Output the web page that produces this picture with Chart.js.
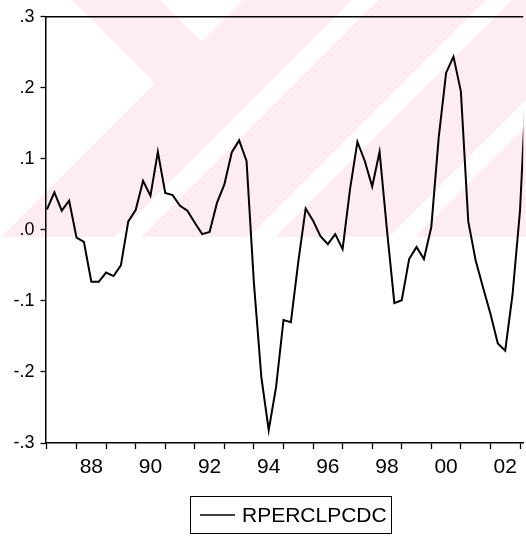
<!DOCTYPE html>
<html>
<head>
<meta charset="utf-8">
<script src="https://cdn.jsdelivr.net/npm/chart.js@4.4.1/dist/chart.umd.min.js"></script>
<style>
html,body{margin:0;padding:0;background:#fff;overflow:hidden}
#wrap{position:relative;width:526px;height:546px}
</style>
</head>
<body>
<div id="wrap"><canvas id="c" width="526" height="546"></canvas></div>
<script>
// ---- data (quarterly, first observation 1987Q1) ----
const seriesName = 'RPERCLPCDC';
const firstYear = 1987;
const values = [
  0.029, 0.053, 0.027, 0.041,   -0.011, -0.017, -0.073, -0.073,
 -0.060, -0.065, -0.050, 0.012,   0.028, 0.069, 0.048, 0.110,
  0.052, 0.049, 0.034, 0.027,     0.010, -0.006, -0.003, 0.038,
  0.064, 0.109, 0.126, 0.097,    -0.075, -0.207, -0.282, -0.221,
 -0.127, -0.130, -0.045, 0.030,   0.013, -0.009, -0.020, -0.006,
 -0.027, 0.057, 0.124, 0.097,     0.061, 0.110, 0.000, -0.103,
 -0.099, -0.041, -0.024, -0.041,  0.004, 0.130, 0.221, 0.244,
  0.195, 0.012, -0.043, -0.081,  -0.118, -0.160, -0.170, -0.090,
  0.027, 0.240
];
const yTickValues = [-0.3, -0.2, -0.1, 0.0, 0.1, 0.2, 0.3];
const yTickLabels = ['-.3', '-.2', '-.1', '.0', '.1', '.2', '.3'];
const tickYears = [1987,1988,1989,1990,1991,1992,1993,1994,1995,1996,1997,1998,1999,2000,2001,2002,2003];
const labelYears = [1988,1990,1992,1994,1996,1998,2000,2002];
const labelTexts = ['88','90','92','94','96','98','00','02'];

const points = values.map((v, i) => ({x: firstYear + i / 4, y: v}));

const FONT = "'Liberation Sans', Arial, Helvetica, sans-serif";

const bgPlugin = {
  id: 'bg',
  beforeDraw(chart) {
    const ctx = chart.ctx;
    ctx.save();
    ctx.fillStyle = '#ffffff';
    ctx.fillRect(0, 0, chart.width, chart.height);
    // faint watermark behind the plot
    const H = 237;
    ctx.fillStyle = 'rgb(253,236,240)';
    ctx.fillRect(0, 0, chart.width, H);
    ctx.beginPath(); ctx.rect(0, 0, chart.width, H); ctx.clip();
    ctx.fillStyle = '#ffffff';
    const poly = (pts) => { ctx.beginPath(); ctx.moveTo(pts[0][0], pts[0][1]); for (let k = 1; k < pts.length; k++) ctx.lineTo(pts[k][0], pts[k][1]); ctx.closePath(); ctx.fill(); };
    poly([[0,0],[72,0],[155,83],[0,238]]);
    poly([[160,0],[243,0],[201.5,41.5]]);
    [[352,378],[486,512],[626,652]].forEach(([a,b]) => poly([[a,0],[b,0],[b-H,H],[a-H,H]]));
    ctx.restore();
  }
};

const framePlugin = {
  id: 'frame',
  afterDraw(chart) {
    const ctx = chart.ctx;
    const a = chart.chartArea;
    ctx.save();
    ctx.strokeStyle = '#000';
    ctx.lineWidth = 1.5;
    ctx.beginPath();
    ctx.moveTo(a.left, a.top);
    ctx.lineTo(a.right, a.top);
    ctx.stroke();
    // legend box
    const ds = chart.data.datasets[0];
    const bx = 190.5, by = 496.5, bw = 201, bh = 37;
    ctx.lineWidth = 1;
    ctx.strokeRect(bx, by, bw, bh);
    const cy = by + bh / 2;
    ctx.lineWidth = 1.5;
    ctx.strokeStyle = ds.borderColor;
    ctx.beginPath();
    ctx.moveTo(200, cy);
    ctx.lineTo(235, cy);
    ctx.stroke();
    ctx.fillStyle = '#000';
    ctx.font = '21px ' + FONT;
    ctx.textAlign = 'left';
    ctx.textBaseline = 'middle';
    ctx.fillText(ds.label, 242, cy + 1);
    ctx.restore();
  }
};

new Chart(document.getElementById('c'), {
  type: 'line',
  data: {
    datasets: [{
      label: seriesName,
      data: points,
      borderColor: '#000',
      borderWidth: 2,
      pointRadius: 0,
      tension: 0,
      fill: false
    }]
  },
  options: {
    responsive: false,
    animation: false,
    events: [],
    layout: {padding: {top: 15.7, right: 0, bottom: 0, left: 0}},
    plugins: {legend: {display: false}, tooltip: {enabled: false}},
    scales: {
      x: {
        type: 'linear',
        min: 1986.95,
        max: 2003.11,
        afterBuildTicks(scale) {
          const t = tickYears.map(v => ({value: v}));
          labelYears.forEach(v => t.push({value: v + 0.5}));
          t.sort((p, q) => p.value - q.value);
          scale.ticks = t;
        },
        afterFit(scale) { scale.height = 103; },
        ticks: {
          autoSkip: false,
          maxRotation: 0,
          minRotation: 0,
          padding: 6,
          color: '#000',
          font: {family: FONT, size: 21},
          callback(value) {
            const k = labelYears.indexOf(value - 0.5);
            return k >= 0 ? labelTexts[k] : '';
          }
        },
        grid: {
          drawOnChartArea: false,
          tickLength: 6,
          tickWidth: 1.3,
          tickColor: (c) => (c.tick && Number.isInteger(c.tick.value)) ? '#000' : 'rgba(0,0,0,0)'
        },
        border: {display: true, color: '#000', width: 1.5}
      },
      y: {
        type: 'linear',
        min: -0.3,
        max: 0.3,
        afterBuildTicks(scale) { scale.ticks = yTickValues.map(v => ({value: v})); },
        afterFit(scale) { scale.width = 45.5; },
        ticks: {
          padding: 6,
          color: '#000',
          font: {family: FONT, size: 18},
          callback(value) {
            const k = yTickValues.findIndex(v => Math.abs(v - value) < 1e-9);
            return k >= 0 ? yTickLabels[k] : '';
          }
        },
        grid: {drawOnChartArea: false, tickLength: 5, tickWidth: 1.3, tickColor: '#000'},
        border: {display: true, color: '#000', width: 1.5}
      }
    }
  },
  plugins: [bgPlugin, framePlugin]
});
</script>
</body>
</html>
